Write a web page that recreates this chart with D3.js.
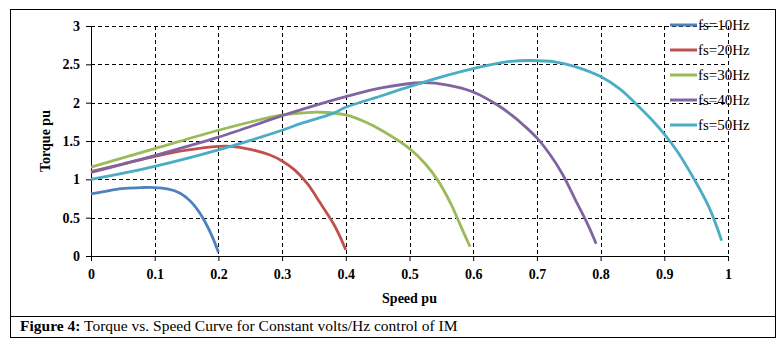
<!DOCTYPE html>
<html>
<head>
<meta charset="utf-8">
<title>Torque vs Speed</title>
<script src="https://cdn.jsdelivr.net/npm/d3@7"></script>
<style>
  body { margin: 0; background: #fff; }
  svg text { font-family: "Liberation Serif", "Times New Roman", serif; }
</style>
</head>
<body>
<script>
// data
var seriesNames = ['fs=10Hz', 'fs=20Hz', 'fs=30Hz', 'fs=40Hz', 'fs=50Hz'];
var seriesColors = ['#4F81BD', '#C0504D', '#9BBB59', '#8064A2', '#4BACC6'];

var speed10 = [0, 0.02, 0.04, 0.06, 0.08, 0.1, 0.12, 0.14, 0.15, 0.16, 0.17, 0.18, 0.19, 0.2];
var torque10 = [0.81, 0.84, 0.87, 0.885, 0.893, 0.893, 0.875, 0.82, 0.76, 0.68, 0.57, 0.43, 0.26, 0.05];

var speed20 = [0, 0.05, 0.1, 0.15, 0.2, 0.22, 0.25, 0.28, 0.3, 0.32, 0.34, 0.36, 0.38, 0.39, 0.4];
var torque20 = [1.1, 1.2, 1.3, 1.38, 1.43, 1.43, 1.39, 1.32, 1.24, 1.12, 0.94, 0.69, 0.43, 0.27, 0.08];

var speed30 = [0, 0.1, 0.2, 0.3, 0.33, 0.36, 0.4, 0.43, 0.46, 0.5, 0.525, 0.545, 0.565, 0.58, 0.595];
var torque30 = [1.16, 1.4, 1.64, 1.84, 1.865, 1.875, 1.84, 1.75, 1.62, 1.4, 1.2, 0.98, 0.68, 0.4, 0.12];

var speed40 = [0, 0.1, 0.2, 0.3, 0.33, 0.4, 0.46, 0.52, 0.56, 0.6, 0.64, 0.66, 0.68, 0.7, 0.72, 0.74, 0.76, 0.78, 0.793];
var torque40 = [1.09, 1.31, 1.55, 1.83, 1.91, 2.08, 2.2, 2.26, 2.23, 2.14, 1.96, 1.84, 1.7, 1.54, 1.33, 1.07, 0.74, 0.41, 0.16];

var speed50 = [0, 0.1, 0.2, 0.3, 0.33, 0.38, 0.4, 0.46, 0.5, 0.56, 0.6, 0.65, 0.69, 0.73, 0.76, 0.8, 0.83, 0.855, 0.88, 0.9, 0.92, 0.94, 0.97, 0.99];
var torque50 = [1.0, 1.17, 1.385, 1.64, 1.73, 1.86, 1.94, 2.1, 2.21, 2.36, 2.445, 2.53, 2.55, 2.53, 2.47, 2.34, 2.18, 1.99, 1.78, 1.59, 1.37, 1.1, 0.64, 0.2];

var xTicks = [0, 0.1, 0.2, 0.3, 0.4, 0.5, 0.6, 0.7, 0.8, 0.9, 1];
var yTicks = [0, 0.5, 1, 1.5, 2, 2.5, 3];

var allSpeeds = [speed10, speed20, speed30, speed40, speed50];
var allTorques = [torque10, torque20, torque30, torque40, torque50];

var width = 784, height = 352;
var plot = { left: 91, right: 728, top: 26, bottom: 256 };

var svg = d3.select('body').append('svg').attr('width', width).attr('height', height);

// figure frame and caption box
svg.append('rect').attr('x', 10.5).attr('y', 9.5).attr('width', 765).attr('height', 328)
  .attr('fill', 'none').attr('stroke', '#000').attr('stroke-width', 1);
svg.append('line').attr('x1', 10).attr('x2', 776).attr('y1', 316.5).attr('y2', 316.5)
  .attr('stroke', '#000');

var xScale = d3.scaleLinear().domain([0, 1]).range([plot.left, plot.right]);
var yScale = d3.scaleLinear().domain([0, 3]).range([plot.bottom, plot.top]);

// dashed grid
svg.append('g').selectAll('line').data(xTicks.slice(1)).enter().append('line')
  .attr('x1', function(d) { return Math.round(xScale(d)) + 0.5; })
  .attr('x2', function(d) { return Math.round(xScale(d)) + 0.5; })
  .attr('y1', plot.top).attr('y2', plot.bottom)
  .attr('stroke', '#000').attr('stroke-dasharray', '4,3');
svg.append('g').selectAll('line').data(yTicks.slice(1)).enter().append('line')
  .attr('y1', function(d) { return Math.round(yScale(d)) + 0.5; })
  .attr('y2', function(d) { return Math.round(yScale(d)) + 0.5; })
  .attr('x1', plot.left).attr('x2', plot.right)
  .attr('stroke', '#000').attr('stroke-dasharray', '4,3');

// axes
var xAxis = d3.axisBottom(xScale).tickValues(xTicks).tickSize(5).tickPadding(8)
  .tickFormat(function(d) { return d3.format('')(d); });
var yAxis = d3.axisLeft(yScale).tickValues(yTicks).tickSize(5).tickPadding(6)
  .tickFormat(function(d) { return d3.format('')(d); });

var gx = svg.append('g').attr('transform', 'translate(0,' + plot.bottom + ')').call(xAxis);
var gy = svg.append('g').attr('transform', 'translate(' + plot.left + ',0)').call(yAxis);
[gx, gy].forEach(function(g) {
  g.select('.domain').attr('stroke', '#000').attr('stroke-width', 1);
  g.selectAll('.tick line').attr('stroke', '#000');
  g.selectAll('text').attr('font-family', '"Liberation Serif", serif')
    .attr('font-size', 14).attr('font-weight', 'bold').attr('fill', '#000');
});

// curves
var line = d3.line().x(function(d) { return xScale(d[0]); }).y(function(d) { return yScale(d[1]); })
  .curve(d3.curveCatmullRom.alpha(0.5));

seriesNames.forEach(function(name, i) {
  var pts = allSpeeds[i].map(function(s, j) { return [s, allTorques[i][j]]; });
  svg.append('path').datum(pts).attr('d', line)
    .attr('fill', 'none').attr('stroke', seriesColors[i]).attr('stroke-width', 2.8)
    .attr('stroke-linejoin', 'round');
});

// axis titles
svg.append('text').attr('x', (plot.left + plot.right) / 2).attr('y', 303)
  .attr('text-anchor', 'middle').attr('font-size', 14).attr('font-weight', 'bold').text('Speed pu');
svg.append('text').attr('transform', 'translate(50,' + ((plot.top + plot.bottom) / 2) + ') rotate(-90)')
  .attr('text-anchor', 'middle').attr('font-size', 14).attr('font-weight', 'bold').text('Torque pu');

// legend
var legend = svg.append('g').selectAll('g').data(seriesNames).enter().append('g')
  .attr('transform', function(d, i) { return 'translate(670,' + (25 + i * 25) + ')'; });
legend.append('line').attr('x1', 0).attr('x2', 27).attr('y1', 0).attr('y2', 0)
  .attr('stroke', function(d, i) { return seriesColors[i]; }).attr('stroke-width', 3);
legend.append('text').attr('x', 28).attr('y', 5).attr('font-size', 15).text(function(d) { return d; });

// caption
var cap = svg.append('text').attr('x', 20).attr('y', 331).attr('font-size', 15.5);
cap.append('tspan').attr('font-weight', 'bold').text('Figure 4:');
cap.append('tspan').text(' Torque vs. Speed Curve for Constant volts/Hz control of IM');
</script>
</body>
</html>
